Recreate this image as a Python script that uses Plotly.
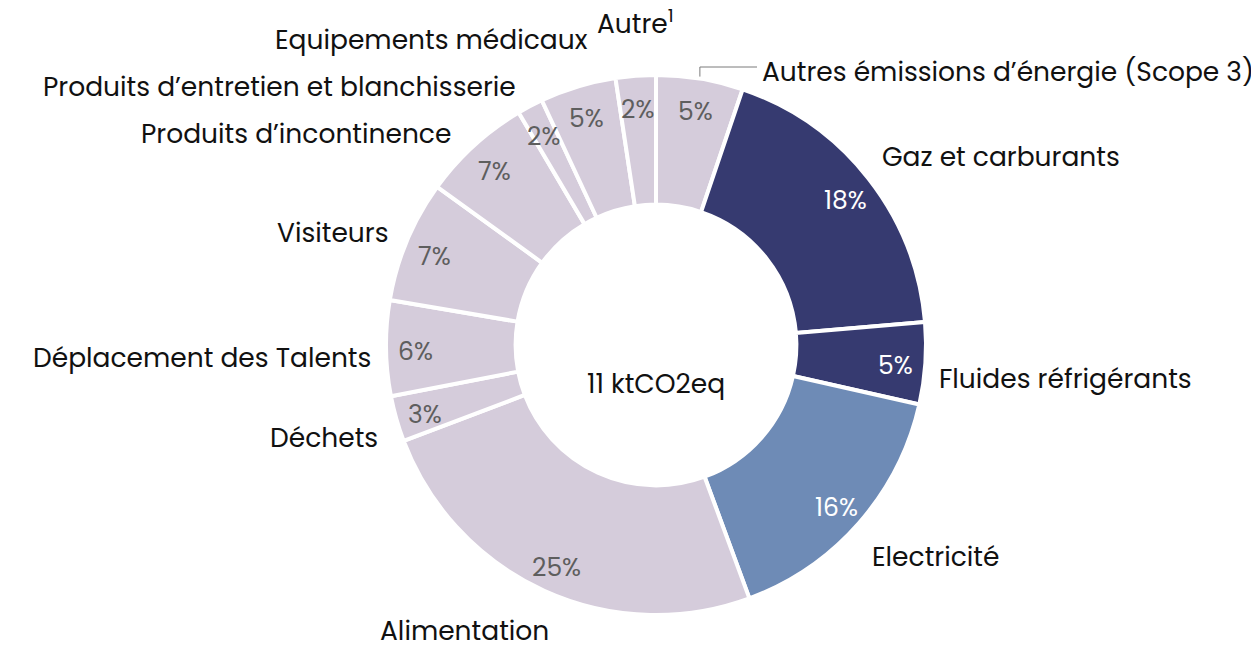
import math
import plotly.graph_objects as go

# ---- data ----
categories = [
    "Autres émissions d’énergie (Scope 3)",
    "Gaz et carburants",
    "Fluides réfrigérants",
    "Electricité",
    "Alimentation",
    "Déchets",
    "Déplacement des Talents",
    "Visiteurs",
    "Produits d’incontinence",
    "Produits d’entretien et blanchisserie",
    "Equipements médicaux",
    "Autre<sup>1</sup>",
]
values = [5.2, 18.45, 4.9, 15.85, 24.85, 2.75, 5.7, 7.3, 6.55, 1.55, 4.55, 2.4]
center_text = "11 ktCO2eq"

# ---- style ----
LIGHT = "#d5ccdb"
NAVY = "#363a70"
BLUE = "#6e8bb6"
slice_colors = [LIGHT, NAVY, NAVY, BLUE] + [LIGHT] * 8
pct_colors = ["#5e5e5e" if c == LIGHT else "#ffffff" for c in slice_colors]
FONT = "Poppins, Open Sans, sans-serif"
LABEL_SIZE = 26.5
PCT_SIZE = 25

# page offset (body margin) and figure size
OX, OY = 8, 8
WIN_W, WIN_H = 1259, 648
W, H = WIN_W - OX, WIN_H - OY
CX, CY, R = 656, 345, 270  # donut centre / radius in window pixels
PCT_R = 0.89 * R


def paper(px, py):
    return (px - OX) / W, 1 - (py - OY) / H


# label placement: (xanchor, xshift px, yshift px) per category
label_style = [
    ("left", 0, 0),
    ("left", -10, 5),
    ("left", -15, -13),
    ("left", -9, -16),
    ("center", -68, -15),
    ("right", 10, -11),
    ("right", 14, -9),
    ("right", 9, -2),
    ("right", -3, -8),
    ("right", 0, -4),
    ("right", 20, 21),
    ("center", 2, 26),
]

x0, y1 = paper(CX - R, CY - R)
x1, y0 = paper(CX + R, CY + R)

fig = go.Figure(
    go.Pie(
        labels=categories,
        values=values,
        sort=False,
        direction="clockwise",
        rotation=0,
        hole=0.52,
        marker=dict(colors=slice_colors, line=dict(color="white", width=4)),
        textinfo="none",
        domain=dict(x=[x0, x1], y=[y0, y1]),
        showlegend=False,
        hoverinfo="label+percent",
    )
)

total = sum(values)
annotations = []
shapes = []
cum = 0.0
for i, (lab, v) in enumerate(zip(categories, values)):
    mid = (cum + v / 2) / total * 2 * math.pi
    cum += v
    s, c = math.sin(mid), math.cos(mid)
    # percentage inside the ring
    qx, qy = paper(CX + PCT_R * s, CY - PCT_R * c + 4)
    annotations.append(dict(
        text=f"{round(100 * v / total)}%", x=qx, y=qy, xref="paper", yref="paper",
        xanchor="center", yanchor="middle", showarrow=False,
        font=dict(family=FONT, size=PCT_SIZE, color=pct_colors[i]),
    ))
    anchor, dx, dy = label_style[i]
    if i == 0:
        sx = CX + R * s
        sy = CY - R * c - 2
        ty, tx = 67, 757
        ax, ay = paper(sx, sy)
        bx, by = paper(sx, ty)
        ex, ey = paper(tx, ty)
        shapes.append(dict(type="line", xref="paper", yref="paper", x0=ax, y0=ay, x1=bx, y1=by,
                           line=dict(color="#7a7a7a", width=1)))
        shapes.append(dict(type="line", xref="paper", yref="paper", x0=bx, y0=by, x1=ex, y1=ey,
                           line=dict(color="#7a7a7a", width=1)))
        px, py = tx + 3, 72
    else:
        px = CX + R * 1.1 * s + dx
        py = CY - R * 1.1 * c - dy
    lx, ly = paper(px, py)
    annotations.append(dict(
        text=lab, x=lx, y=ly, xref="paper", yref="paper",
        xanchor=anchor, yanchor="middle", showarrow=False,
        font=dict(family=FONT, size=LABEL_SIZE, color="#111111"),
    ))

cx_p, cy_p = paper(CX, 383)
annotations.append(dict(
    text=center_text, x=cx_p, y=cy_p, xref="paper", yref="paper",
    xanchor="center", yanchor="middle", showarrow=False,
    font=dict(family=FONT, size=LABEL_SIZE, color="#111111"),
))

fig.update_layout(
    width=W, height=H,
    margin=dict(l=0, r=0, t=0, b=0),
    paper_bgcolor="white", plot_bgcolor="white",
    annotations=annotations, shapes=shapes,
)

fig.write_html("out.html")
